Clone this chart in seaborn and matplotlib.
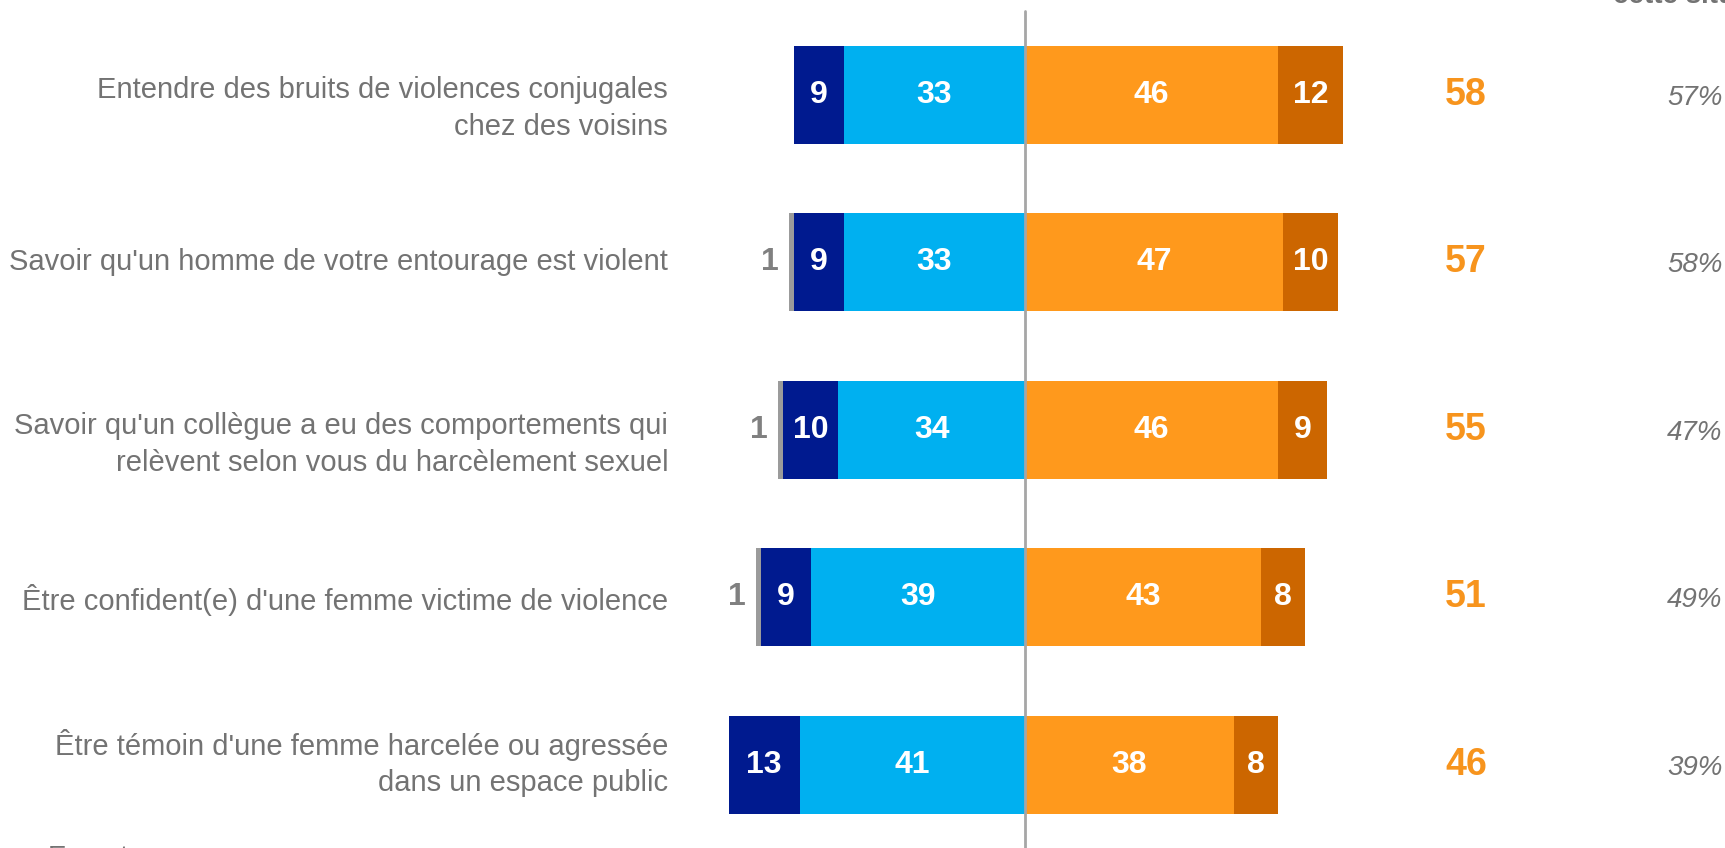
import numpy as np
import pandas as pd
import seaborn as sns
import matplotlib.pyplot as plt

# ---- data ----
categories = [
    "Entendre des bruits de violences conjugales\nchez des voisins",
    "Savoir qu'un homme de votre entourage est violent",
    "Savoir qu'un collègue a eu des comportements qui\nrelèvent selon vous du harcèlement sexuel",
    "Être confident(e) d'une femme victime de violence",
    "Être témoin d'une femme harcelée ou agressée\ndans un espace public",
]
very_neg = [9, 9, 10, 9, 13]
neg = [33, 33, 34, 39, 41]
nsp = [0, 1, 1, 1, 0]
pos = [46, 47, 46, 43, 38]
very_pos = [12, 10, 9, 8, 8]
totals = [58, 57, 55, 51, 46]
pct_labels = ["57%", "58%", "47%", "49%", "39%"]

# ---- style ----
C_NAVY = "#001A8F"
C_LBLUE = "#00B0F0"
C_GRAY = "#9B9B9B"
C_ORANGE = "#FF991C"
C_DORANGE = "#CC6600"
C_TEXT = "#737373"
C_TOTAL = "#F7941D"
label_dy = [0.085, 0.0, 0.09, 0.02, -0.01]

sns.set_theme(style="white")
plt.rcParams["font.family"] = ["Liberation Sans", "DejaVu Sans"]

fig = plt.figure(figsize=(17.25, 8.48), dpi=100)
ax = fig.add_axes([0, 0, 1, 1])

df = pd.DataFrame({
    "cat": categories,
    "very_neg": very_neg, "neg": neg, "nsp": nsp,
    "pos": pos, "very_pos": very_pos,
})
df["neg_all"] = -(df["neg"] + df["very_neg"] + df["nsp"])
df["neg_mid"] = -(df["neg"] + df["very_neg"])
df["neg_in"] = -df["neg"]
df["pos_all"] = df["pos"] + df["very_pos"]
df["pos_in"] = df["pos"]

W = 0.585
layers = [
    ("neg_all", C_GRAY), ("neg_mid", C_NAVY), ("neg_in", C_LBLUE),
    ("pos_all", C_DORANGE), ("pos_in", C_ORANGE),
]
for col, c in layers:
    sns.barplot(data=df, x=col, y="cat", orient="h", color=c, width=W,
                saturation=1, linewidth=0, errorbar=None, ax=ax)

# axis geometry (x=0 at centre line)
ax.set_xlim(-186.7, 127.5)
ax.set_ylim(4.498, -0.565)
ax.axis("off")
ax.axvline(0, ymin=0, ymax=1 - 11 / 848, color="#A6A6A6", lw=2, zorder=5)

FS_BAR = 23
bold = dict(fontweight="bold", ha="center", va="center")
for i in range(len(categories)):
    # negative side labels
    ax.text(-(neg[i] + very_neg[i] / 2), i, str(very_neg[i]), color="white", fontsize=FS_BAR, **bold)
    ax.text(-neg[i] / 2, i, str(neg[i]), color="white", fontsize=FS_BAR, **bold)
    if nsp[i]:
        ax.text(-(neg[i] + very_neg[i] + nsp[i]) - 1.8, i, str(nsp[i]), color="#808080",
                fontsize=FS_BAR, fontweight="bold", ha="right", va="center")
    ax.text(pos[i] / 2, i, str(pos[i]), color="white", fontsize=FS_BAR, **bold)
    ax.text(pos[i] + very_pos[i] / 2, i, str(very_pos[i]), color="white", fontsize=FS_BAR, **bold)
    # totals
    ax.text(80.3, i, str(totals[i]), color=C_TOTAL, fontsize=27, **bold)
    ax.text(127, i + 0.02, pct_labels[i], color=C_TEXT, fontsize=20, fontstyle="italic",
            ha="right", va="center")
    # category labels
    ax.text(-65, i + label_dy[i], categories[i], color=C_TEXT, fontsize=21, ha="right",
            va="center", linespacing=1.4)

# cut-off header and footnote text
fig.text(1613 / 1725, 1 - 3 / 848, "cette situation", color=C_TEXT, fontsize=20,
         fontweight="bold", ha="left", va="baseline")
fig.text(48 / 1725, 3 / 848, "En outre", color=C_TEXT, fontsize=20,
         ha="left", va="top")

fig.savefig("out.png", dpi=100)
